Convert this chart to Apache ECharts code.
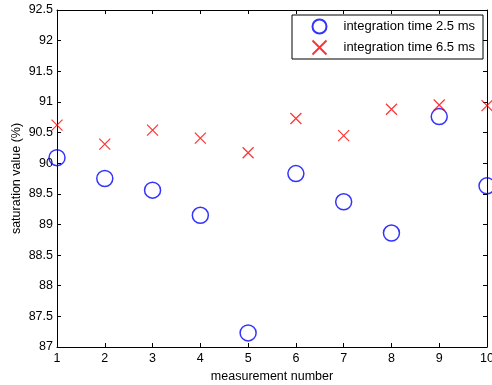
<!doctype html>
<html>
<head>
<meta charset="utf-8">
<style>
html, body { margin: 0; padding: 0; background: #fff; }
#main { width: 492px; height: 385px; }
</style>
</head>
<body>
<div id="main"></div>
<script src="https://cdn.jsdelivr.net/npm/echarts@6/dist/echarts.min.js"></script>
<script>
var measurements = [1, 2, 3, 4, 5, 6, 7, 8, 9, 10];
var time25 = [90.09, 89.75, 89.56, 89.15, 87.23, 89.83, 89.37, 88.86, 90.76, 89.63];
var time65 = [90.62, 90.31, 90.54, 90.41, 90.17, 90.73, 90.45, 90.88, 90.95, 90.94];
var seriesNames = ['integration time 2.5 ms', 'integration time 6.5 ms'];

var chart = echarts.init(document.getElementById('main'));
var font = 'Liberation Sans, Arial, sans-serif';

function pairs(vals) {
    return measurements.map(function (m, i) { return [m, vals[i]]; });
}

var axisCommon = {
    axisLine: { show: true, onZero: false, lineStyle: { color: '#000', width: 1 } },
    axisTick: { show: true, inside: true, length: 4, lineStyle: { color: '#000' } },
    splitLine: { show: false }
};

chart.setOption({
    animation: false,
    grid: { left: 57, right: 5, top: 10, bottom: 38, outerBoundsMode: 'none' },
    xAxis: [
        Object.assign({
            type: 'value', min: 1, max: 10, interval: 1,
            name: 'measurement number', nameLocation: 'middle', nameGap: 23,
            nameMoveOverlap: false,
            nameTextStyle: { fontFamily: font, fontSize: 12.5, color: '#000' },
            axisLabel: { fontFamily: font, fontSize: 12.5, color: '#000', margin: 5 }
        }, axisCommon),
        Object.assign({
            type: 'value', min: 1, max: 10, interval: 1, position: 'top',
            axisLabel: { show: false }
        }, axisCommon)
    ],
    yAxis: [
        Object.assign({
            type: 'value', min: 87, max: 92.5, interval: 0.5,
            name: 'saturation value (%)', nameLocation: 'middle', nameGap: 34,
            nameMoveOverlap: false,
            nameTextStyle: { fontFamily: font, fontSize: 12.5, color: '#000' },
            axisLabel: { fontFamily: font, fontSize: 12.5, color: '#000', margin: 4 }
        }, axisCommon),
        Object.assign({
            type: 'value', min: 87, max: 92.5, interval: 0.5, position: 'right',
            axisLabel: { show: false }
        }, axisCommon)
    ],
    legend: {
        orient: 'vertical',
        left: 292, top: 15,
        backgroundColor: '#fff',
        borderColor: '#000', borderWidth: 1, borderRadius: 0,
        padding: [2, 8, 2, 18],
        itemGap: 2,
        itemWidth: 16, itemHeight: 14,
        textStyle: { fontFamily: font, fontSize: 13, lineHeight: 14, color: '#000', padding: [0, 0, 0, 11] },
        data: seriesNames
    },
    series: [
        {
            name: seriesNames[0],
            type: 'scatter',
            symbol: 'circle',
            symbolSize: 16,
            itemStyle: { color: 'none', borderColor: '#0000ff', borderWidth: 1.5 },
            data: pairs(time25)
        },
        {
            name: seriesNames[1],
            type: 'scatter',
            symbol: 'path://M0,0L10,10M10,0L0,10',
            symbolSize: 11,
            itemStyle: { color: 'none', borderColor: '#ff0000', borderWidth: 1.2 },
            data: pairs(time65)
        }
    ]
});
</script>
</body>
</html>
